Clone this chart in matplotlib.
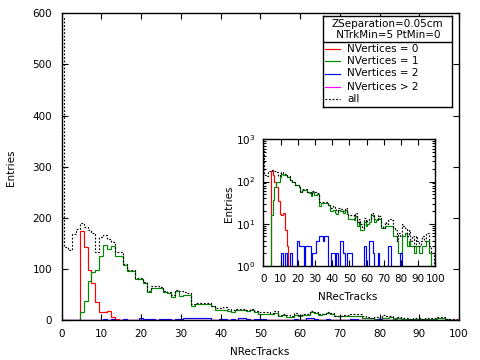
import numpy as np
import matplotlib
matplotlib.use("Agg")
import matplotlib.pyplot as plt

# NRecTracks histogram, one bin per integer value 0..100
n_tracks = np.arange(0, 101)

all_counts = [590, 144, 137, 168, 179, 191, 183, 176, 170, 134,
              163, 166, 159, 154, 134, 134, 110, 98, 99, 82,
              82, 74, 57, 67, 67, 66, 58, 56, 50, 60,
              58, 55, 53, 32, 33, 33, 33, 33, 28, 24,
              24, 26, 23, 20, 23, 22, 22, 20, 23, 19,
              16, 16, 16, 14, 18, 11, 13, 10, 8, 14,
              11, 12, 13, 18, 17, 13, 13, 16, 15, 9,
              8, 11, 10, 12, 13, 12, 8, 7, 4, 6,
              5, 10, 9, 8, 5, 7, 4, 5, 3, 5,
              4, 3, 4, 5, 4, 6, 6, 3, 2, 2,
              1]

nv1_counts = [0, 0, 0, 0, 0, 16, 37, 76, 95, 98,
              125, 148, 140, 145, 125, 125, 108, 96, 97, 81,
              81, 73, 55, 64, 64, 64, 56, 54, 46, 57,
              47, 49, 50, 27, 31, 31, 31, 31, 28, 20,
              20, 21, 18, 17, 21, 20, 20, 18, 21, 17,
              13, 13, 13, 12, 15, 9, 11, 7, 7, 11,
              9, 10, 11, 16, 15, 11, 12, 14, 13, 8,
              8, 9, 9, 9, 9, 9, 5, 5, 4, 2,
              2, 5, 5, 6, 3, 4, 3, 3, 2, 3,
              3, 2, 2, 3, 3, 4, 4, 2, 1, 1,
              0]

nv0_counts = [0, 0, 0, 0, 0, 174, 144, 98, 73, 35,
              17, 16, 18, 7, 3] + [0] * 86

# sparse bins: NRecTracks -> entries
nv2_bins = {11: 2, 12: 1, 13: 2, 14: 1, 16: 2, 20: 4, 21: 3, 22: 3, 23: 3,
            24: 1, 25: 3, 26: 3, 27: 3, 29: 2, 30: 2, 31: 4, 32: 4, 33: 5,
            34: 5, 35: 4, 36: 5, 37: 5, 38: 1, 40: 2, 41: 2, 43: 2, 45: 4,
            46: 4, 47: 2, 49: 2, 50: 2, 51: 2, 59: 3, 62: 4, 63: 4, 64: 2,
            67: 2, 73: 3, 74: 3, 80: 2}
nv3_bins = {44: 1}

nv2_counts = [nv2_bins.get(k, 0) for k in n_tracks]
nv3_counts = [nv3_bins.get(k, 0) for k in n_tracks]

series = [
    ("NVertices = 0", nv0_counts, "#ff0000", "-"),
    ("NVertices = 1", nv1_counts, "#008800", "-"),
    ("NVertices = 2", nv2_counts, "#0000ff", "-"),
    ("NVertices > 2", nv3_counts, "#ff00ff", "-"),
    ("all", all_counts, "black", (0, (1.5, 1.5))),
]

edges = np.append(n_tracks - 0.5, n_tracks[-1] + 0.5)

W, H = 480, 360
fig = plt.figure(figsize=(4.8, 3.6), dpi=100)
fs = 7.5
lw = 0.85


def px_rect(x0, y0, x1, y1):
    return [x0 / W, 1 - y1 / H, (x1 - x0) / W, (y1 - y0) / H]


def style_axes(a):
    a.tick_params(which="both", direction="in", top=True, right=True,
                  labelsize=fs, width=0.8)
    a.tick_params(which="major", length=4)
    a.tick_params(which="minor", length=2)
    for sp in a.spines.values():
        sp.set_linewidth(1.0)


# main panel
ax = fig.add_axes(px_rect(61.7, 13.3, 459, 320.3))
for name, vals, col, ls in series:
    ax.stairs(vals, edges, baseline=None, color=col, linestyle=ls, lw=lw)
ax.set_xlim(0, 100)
ax.set_ylim(0, 600)
ax.set_xticks(np.arange(0, 101, 10))
ax.set_yticks(np.arange(0, 601, 100))
style_axes(ax)
ax.tick_params(axis="x", pad=6)
ax.tick_params(axis="y", pad=7)
fig.text(260 / W, 1 - 352 / H, "NRecTracks", ha="center", va="center", fontsize=fs)
fig.text(11 / W, 1 - 168 / H, "Entries", ha="center", va="center",
         rotation=90, fontsize=fs)

# log inset
axi = fig.add_axes(px_rect(263.3, 139.3, 435.3, 266))
axi.set_facecolor("white")
for name, vals, col, ls in series:
    v = np.asarray(vals, dtype=float)
    v = np.where(v > 0, v, 1e-2)
    axi.stairs(v, edges, baseline=None, color=col, linestyle=ls, lw=lw)
axi.set_yscale("log")
axi.set_xlim(0, 100)
axi.set_ylim(1, 1000)
axi.set_xticks(np.arange(0, 101, 10))
style_axes(axi)
axi.tick_params(axis="x", pad=6)
axi.tick_params(axis="y", pad=6)
fig.text(348 / W, 1 - 297 / H, "NRecTracks", ha="center", va="center", fontsize=fs)
fig.text(229 / W, 1 - 204 / H, "Entries", ha="center", va="center",
         rotation=90, fontsize=fs)

# legend box
lg = fig.add_axes(px_rect(323, 16, 452, 107))
lg.set_xlim(323, 452)
lg.set_ylim(107, 16)
lg.set_xticks([])
lg.set_yticks([])
for sp in lg.spines.values():
    sp.set_linewidth(1.0)
lg.axhline(42, color="black", lw=1.0)
lg.text(387, 24, "ZSeparation=0.05cm", ha="center", va="center", fontsize=fs)
lg.text(387, 35.5, " NTrkMin=5 PtMin=0", ha="center", va="center", fontsize=fs)
row_y = [48.5, 61, 73.5, 86.5, 99]
for (name, vals, col, ls), yy in zip(series, row_y):
    lg.plot([325, 340], [yy, yy], color=col, linestyle=ls, lw=lw)
    lg.text(347, yy, name, ha="left", va="center", fontsize=fs)

fig.savefig("out.png", dpi=100)
